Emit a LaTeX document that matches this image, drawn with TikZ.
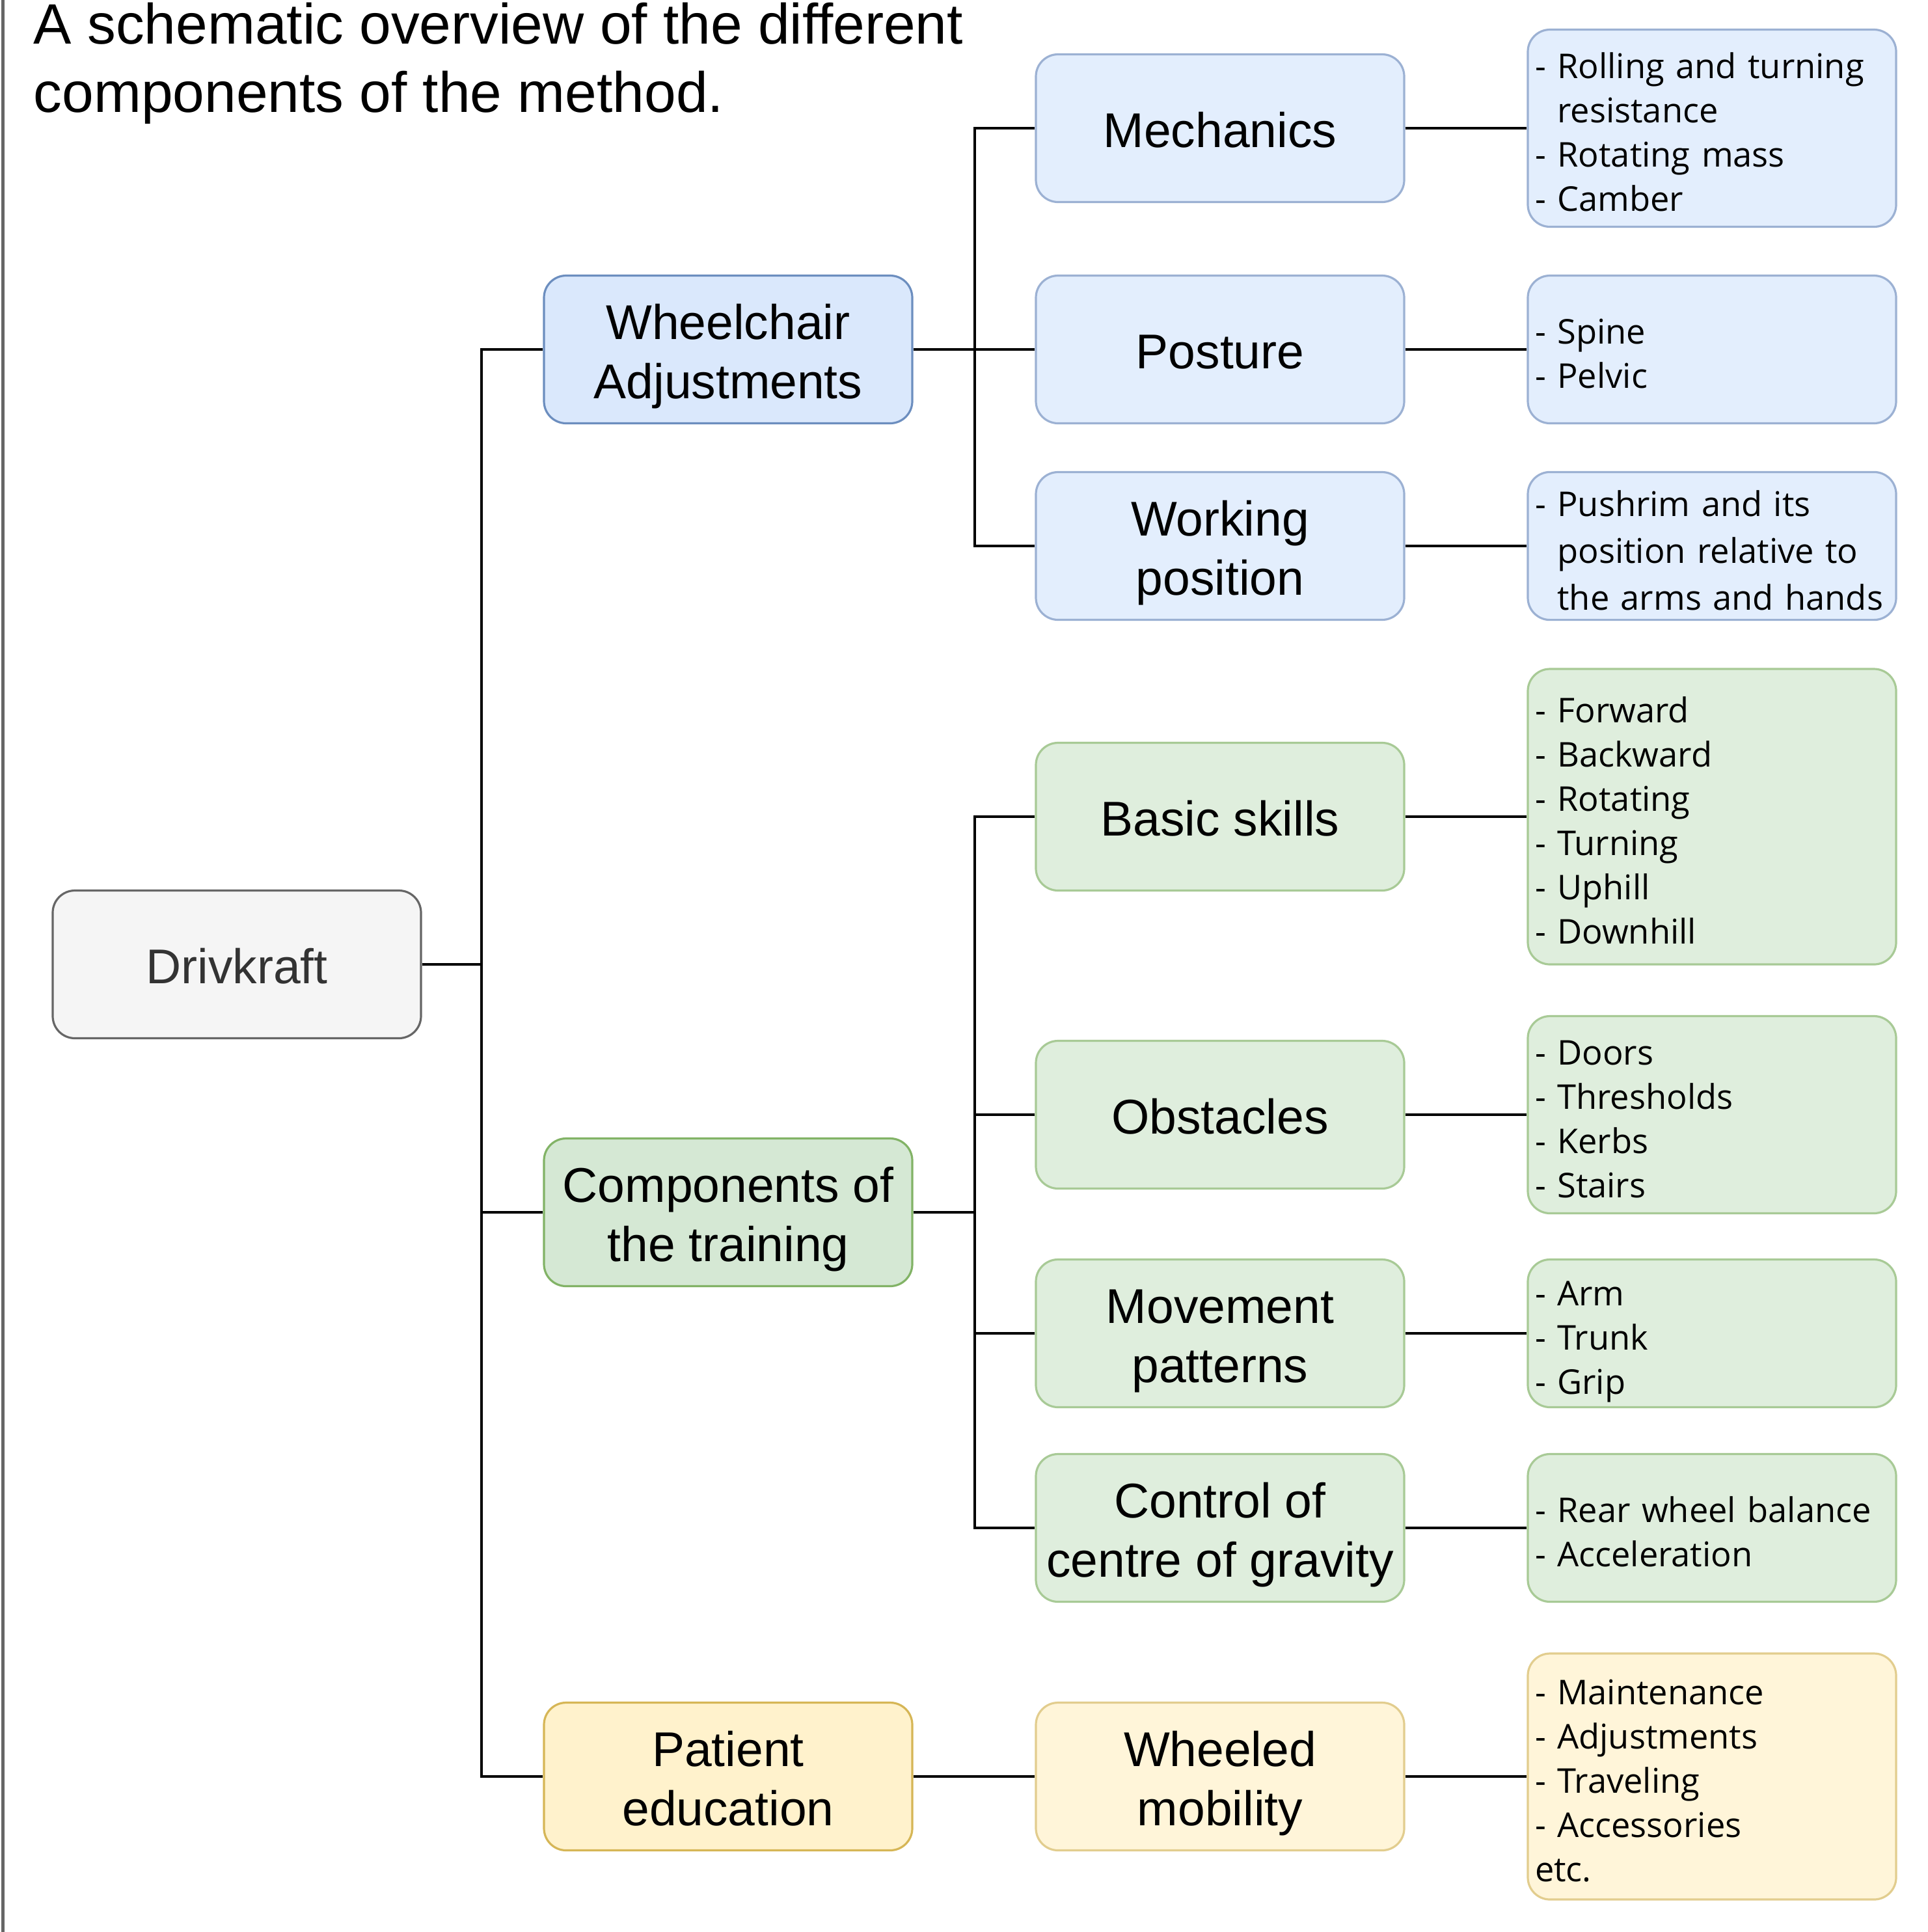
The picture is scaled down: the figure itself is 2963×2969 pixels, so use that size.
\documentclass[tikz,border=0pt]{standalone}
\usepackage{fontspec}
\setmainfont{Liberation Sans}
\newfontfamily\detfont{Open Sans}
\hyphenpenalty=10000
\exhyphenpenalty=10000
\definecolor{blA}{HTML}{DAE8FC}\definecolor{blAd}{HTML}{6C8EBF}
\definecolor{blB}{HTML}{E3EEFD}\definecolor{blBd}{HTML}{9CB1D3}
\definecolor{grA}{HTML}{D5E8D4}\definecolor{grAd}{HTML}{82B366}
\definecolor{grB}{HTML}{DFEEDD}\definecolor{grBd}{HTML}{A8CA96}
\definecolor{yeA}{HTML}{FFF2CC}\definecolor{yeAd}{HTML}{D6B656}
\definecolor{yeB}{HTML}{FFF5D9}\definecolor{yeBd}{HTML}{E2CD8E}
\definecolor{gyA}{HTML}{F5F5F5}\definecolor{gyAd}{HTML}{666666}
\definecolor{gyT}{HTML}{333333}
% line struts (drawio-like line boxes)
\newcommand\bs{\rule[-3.9pt]{0pt}{22.75pt}}
\newcommand\dsx{\rule[-3.6pt]{0pt}{17pt}}
\newcommand\dsf{\rule[-3.6pt]{0pt}{19.8pt}}
\newcommand\dsw{\rule[-3.9pt]{0pt}{18pt}}
\newcommand\dswf{\rule[-3.9pt]{0pt}{20.8pt}}
\begin{document}
\begin{tikzpicture}[x=0.25pt,y=-0.25pt,
  box/.style={draw, rounded corners=8.5pt, minimum width=141.5pt, minimum height=56.75pt,
    inner xsep=2pt, inner ysep=0pt, align=center, font=\fontsize{18.75}{22.75}\selectfont, line width=0.8pt},
  det/.style={draw, rounded corners=8.5pt, text width=136pt, inner xsep=2.75pt, inner ysep=0pt,
    align=left, minimum height=56.75pt,
    font=\detfont\fontsize{13.1}{17}\selectfont, line width=0.8pt},
  cblA/.style={fill=blA, draw=blAd}, cblB/.style={fill=blB, draw=blBd},
  cgrA/.style={fill=grA, draw=grAd}, cgrB/.style={fill=grB, draw=grBd},
  cyeA/.style={fill=yeA, draw=yeAd}, cyeB/.style={fill=yeB, draw=yeBd},
  conn/.style={line width=1pt, black},
  titlefont/.style={font=\fontsize{21.875}{26}\selectfont, inner sep=0pt, anchor=base west}
]
\useasboundingbox (0,0) rectangle (2963,2969);
\fill[white] (0,0) rectangle (2963,2969);
\draw[line width=1.2pt, gyAd] (4.5,0) -- (4.5,2969);

\node[titlefont] (title1) at (51,67) {A schematic overview of the different};
\node[titlefont] (title2) at (51,172) {components of the method.};

% level 0
\node[box, fill=gyA, draw=gyAd, text=gyT] (drv) at (364,1482) {\bs Drivkraft};
% level 1
\node[box, cblA] (wa) at (1119,537) {\bs Wheelchair\\\bs Adjustments};
\node[box, cgrA] (ct) at (1119,1863) {\bs Components of\\\bs the training};
\node[box, cyeA] (pe) at (1119,2730) {\bs Patient\\\bs education};
% level 2
\node[box, cblB] (mech) at (1875,197) {\bs Mechanics};
\node[box, cblB] (post) at (1875,537) {\bs Posture};
\node[box, cblB] (work) at (1875,839) {\bs Working\\\bs position};
\node[box, cgrB] (basic) at (1875,1255) {\bs Basic skills};
\node[box, cgrB] (obst) at (1875,1713) {\bs Obstacles};
\node[box, cgrB] (move) at (1875,2049) {\bs Movement\\\bs patterns};
\node[box, cgrB] (ctrl) at (1875,2348) {\bs Control of\\\bs centre of gravity};
\node[box, cyeB] (wm) at (1875,2730) {\bs Wheeled\\\bs mobility};
% level 3
\node[det, cblB, minimum height=75.75pt] (mechd) at (2631,197)
  {\dsf- Rolling and turning\\\dsx\hphantom{- }resistance\\\dsx- Rotating mass\\\dsx- Camber};
\node[det, cblB] (postd) at (2631,537) {\dsf- Spine\\\dsx- Pelvic};
\node[det, cblB, font=\detfont\fontsize{13.1}{18}\selectfont] (workd) at (2631,839)
  {\dswf- Pushrim and its\\\dsw\hphantom{- }position relative to\\\dsw\hphantom{- }the arms and hands};
\node[det, cgrB, minimum height=113.5pt] (basicd) at (2631,1255)
  {\dsf- Forward\\\dsx- Backward\\\dsx- Rotating\\\dsx- Turning\\\dsx- Uphill\\\dsx- Downhill};
\node[det, cgrB, minimum height=75.75pt] (obstd) at (2631,1713)
  {\dsf- Doors\\\dsx- Thresholds\\\dsx- Kerbs\\\dsx- Stairs};
\node[det, cgrB] (moved) at (2631,2049) {\dsf- Arm\\\dsx- Trunk\\\dsx- Grip};
\node[det, cgrB] (ctrld) at (2631,2348) {\dsf- Rear wheel balance\\\dsx- Acceleration};
\node[det, cyeB, minimum height=94.5pt] (wmd) at (2631,2730)
  {\dsf- Maintenance\\\dsx- Adjustments\\\dsx- Traveling\\\dsx- Accessories\\\dsx etc.};

% trunks
\coordinate (t1) at (740,0);
\coordinate (t2) at (1498,0);

\draw[conn] (drv.east) -- (drv.east -| t1);
\draw[conn] (wa.west) -- (wa.west -| t1) -- (pe.west -| t1) -- (pe.west);
\draw[conn] (ct.west) -- (ct.west -| t1);

\draw[conn] (mech.west) -- (mech.west -| t2) -- (work.west -| t2) -- (work.west);
\draw[conn] (wa.east) -- (post.west);

\draw[conn] (basic.west) -- (basic.west -| t2) -- (ctrl.west -| t2) -- (ctrl.west);
\draw[conn] (obst.west) -- (obst.west -| t2);
\draw[conn] (move.west) -- (move.west -| t2);
\draw[conn] (ct.east) -- (ct.east -| t2);

\draw[conn] (pe.east) -- (wm.west);

\draw[conn] (mech.east) -- (mechd.west);
\draw[conn] (post.east) -- (postd.west);
\draw[conn] (work.east) -- (workd.west);
\draw[conn] (basic.east) -- (basicd.west);
\draw[conn] (obst.east) -- (obstd.west);
\draw[conn] (move.east) -- (moved.west);
\draw[conn] (ctrl.east) -- (ctrld.west);
\draw[conn] (wm.east) -- (wmd.west);
\end{tikzpicture}
\end{document}
